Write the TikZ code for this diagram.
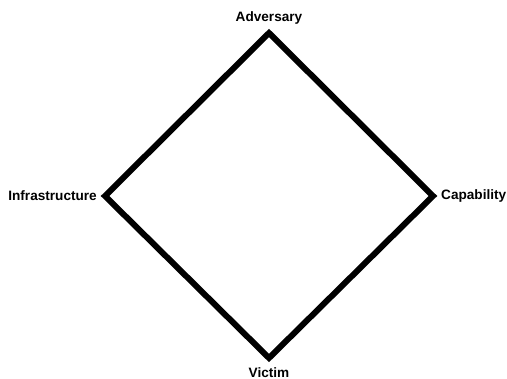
\documentclass[tikz,border=0pt]{standalone}
\usepackage{fontspec}
\setmainfont{Liberation Sans}
\begin{document}
\begin{tikzpicture}[x=1pt,y=-1pt,
  lbl/.style={font=\fontsize{13.6}{16}\selectfont\bfseries, inner sep=0pt},
  edge/.style={line width=6pt, line join=miter, miter limit=10}]
\useasboundingbox (0,0) rectangle (507,379);
\coordinate (A) at (269,33);
\coordinate (I) at (105,196);
\coordinate (C) at (433,196);
\coordinate (V) at (269,358);
\draw[edge] (A) -- (C) -- (V) -- (I) -- cycle;
\node[lbl] (adv) at (269,18) {Adversary};
\node[lbl, anchor=east] (inf) at (97,196) {Infrastructure};
\node[lbl, anchor=west] (cap) at (441,196) {Capability};
\node[lbl, anchor=base] (vic) at (269,377.5) {Victim};
\end{tikzpicture}
\end{document}
